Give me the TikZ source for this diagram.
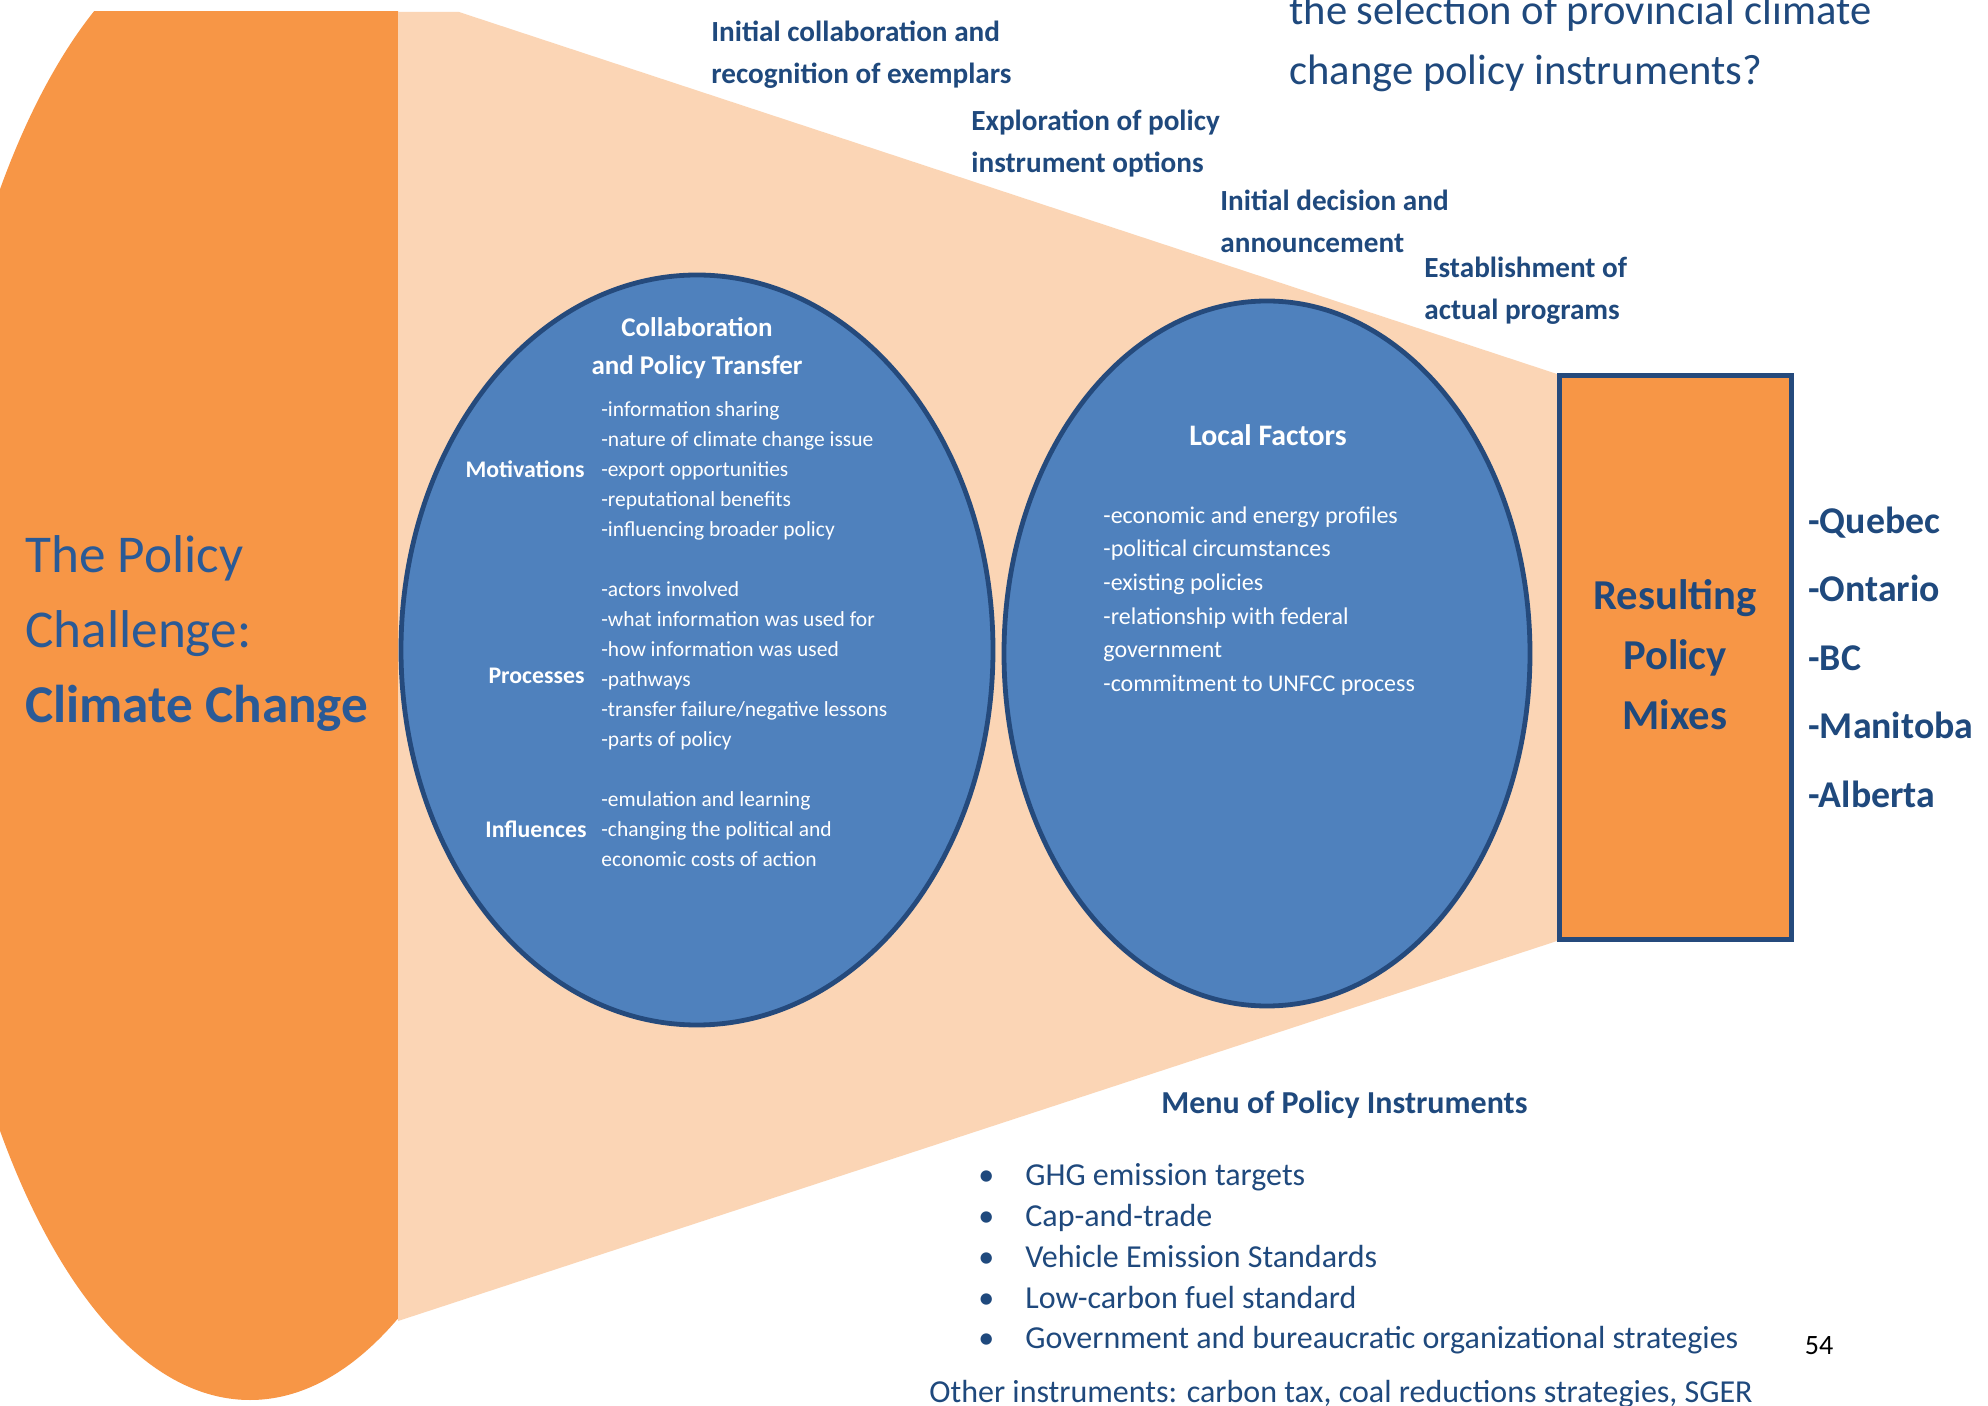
\documentclass[tikz,border=0pt]{standalone}
\usepackage{fontspec}
\setmainfont{Carlito}
\usetikzlibrary{shapes.geometric}
\definecolor{orangeC}{HTML}{F79646}
\definecolor{peach}{HTML}{FBD5B5}
\definecolor{blueFill}{HTML}{4F81BD}
\definecolor{blueLine}{HTML}{254A7C}
\definecolor{darkText}{HTML}{1F497D}
\definecolor{leftText}{HTML}{2A5A96}
\begin{document}
\begin{tikzpicture}[x=0.5pt,y=-0.5pt,
  oval/.style={ellipse, draw=blueLine, fill=blueFill, line width=2.4pt, inner sep=0pt},
  whitehead/.style={text=white, font=\bfseries\fontsize{13.5}{19}\selectfont, align=center, inner sep=0pt},
  whitelabel/.style={text=white, font=\bfseries\fontsize{11.9}{15}\selectfont, anchor=east, inner sep=0pt},
  whitelist/.style={text=white, font=\fontsize{10.75}{15}\selectfont, anchor=west, align=left, inner sep=0pt},
  stagelabel/.style={text=darkText, font=\bfseries\fontsize{14.6}{21.2}\selectfont, anchor=west, align=left, inner sep=0pt},
  bluetext/.style={text=darkText, inner sep=0pt}
]
\useasboundingbox (0,0) rectangle (1988,1406);
\fill[white] (0,0) rectangle (1988,1406);
% big orange ellipse (clipped)
\begin{scope}
  \clip (0,12) rectangle (398,1406);
  \fill[orangeC] (250,660) ellipse [x radius=324, y radius=740];
\end{scope}
% funnel
\fill[peach] (398,12) -- (459,12) -- (1557,374) -- (1557,941) -- (398,1321) -- cycle;
% result box
\node[draw=blueLine, fill=orangeC, line width=2.5pt, minimum width=116pt, minimum height=281.5pt, inner sep=0pt,
  text=darkText, font=\bfseries\fontsize{21.3}{30}\selectfont, align=center] (mix) at (1675,657.5) {};
\node[text=darkText, font=\bfseries\fontsize{21.3}{30}\selectfont, align=center, inner sep=0pt] (mixtext) at (1675,655) {Resulting\\Policy\\Mixes};
% ellipses
\node[oval, minimum width=296pt, minimum height=375pt] (collab) at (697,650) {};
\node[oval, minimum width=263pt, minimum height=352.5pt] (local) at (1267,653.5) {};

% left title
\node[bluetext, anchor=west, align=left, font=\fontsize{26.6}{37.5}\selectfont, text=leftText] (challenge) at (25,634)
  {The Policy\\Challenge:\\\textbf{Climate Change}};

% top partial title
\node[bluetext, anchor=west, align=left, font=\fontsize{21.3}{30}\selectfont] (question) at (1289,43)
  {the selection of provincial climate\\change policy instruments?};

% stage labels
\node[stagelabel] (s1) at (711,54.5) {Initial collaboration and\\recognition of exemplars};
\node[stagelabel] (s2) at (971,143.5) {Exploration of policy\\instrument options};
\node[stagelabel] (s3) at (1220,221.5) {Initial decision and\\announcement};
\node[stagelabel] (s4) at (1424,291) {Establishment of\\actual programs};

% collaboration ellipse content
\node[whitehead] (collabtitle) at (697,348) {Collaboration\\and Policy Transfer};
\node[whitelabel] (motiv) at (585,469) {Motivations};
\node[whitelist] (motivlist) at (601,471) {-information sharing\\-nature of climate change issue\\-export opportunities\\-reputational benefits\\-influencing broader policy};
\node[whitelabel] (proc) at (585,676) {Processes};
\node[whitelist] (proclist) at (601,665.5) {-actors involved\\-what information was used for\\-how information was used\\-pathways\\-transfer failure/negative lessons\\-parts of policy};
\node[whitelabel] (infl) at (587,829) {Influences};
\node[whitelist] (infllist) at (601,829) {-emulation and learning\\-changing the political and\\economic costs of action};

% local factors content
\node[whitehead, font=\bfseries\fontsize{14.9}{19}\selectfont] (localtitle) at (1268,435) {Local Factors};
\node[whitelist, font=\fontsize{12}{16.8}\selectfont] (locallist) at (1103,601) {-economic and energy profiles\\-political circumstances\\-existing policies\\-relationship with federal\\government\\-commitment to UNFCC process};

% provinces
\node[bluetext, anchor=west, align=left, font=\bfseries\fontsize{18.9}{34.25}\selectfont] (prov) at (1808,657)
  {-Quebec\\-Ontario\\-BC\\-Manitoba\\-Alberta};

% menu
\node[bluetext, anchor=west, font=\bfseries\fontsize{16}{18}\selectfont] (menutitle) at (1161,1104.5) {Menu of Policy Instruments};
\node[bluetext, anchor=west, align=left, font=\fontsize{16}{20.4}\selectfont] (menu) at (978,1259)
  {\makebox[23.5pt][l]{•}GHG emission targets\\
   \makebox[23.5pt][l]{•}Cap-and-trade\\
   \makebox[23.5pt][l]{•}Vehicle Emission Standards\\
   \makebox[23.5pt][l]{•}Low-carbon fuel standard\\
   \makebox[23.5pt][l]{•}Government and bureaucratic organizational strategies};
\node[bluetext, anchor=west, font=\fontsize{16}{18}\selectfont] (other) at (929,1394) {Other instruments: carbon tax, coal reductions strategies, SGER};
\node[inner sep=0pt, text=black, font=\fontsize{14}{16}\selectfont] (page) at (1819,1346) {54};
\end{tikzpicture}
\end{document}
